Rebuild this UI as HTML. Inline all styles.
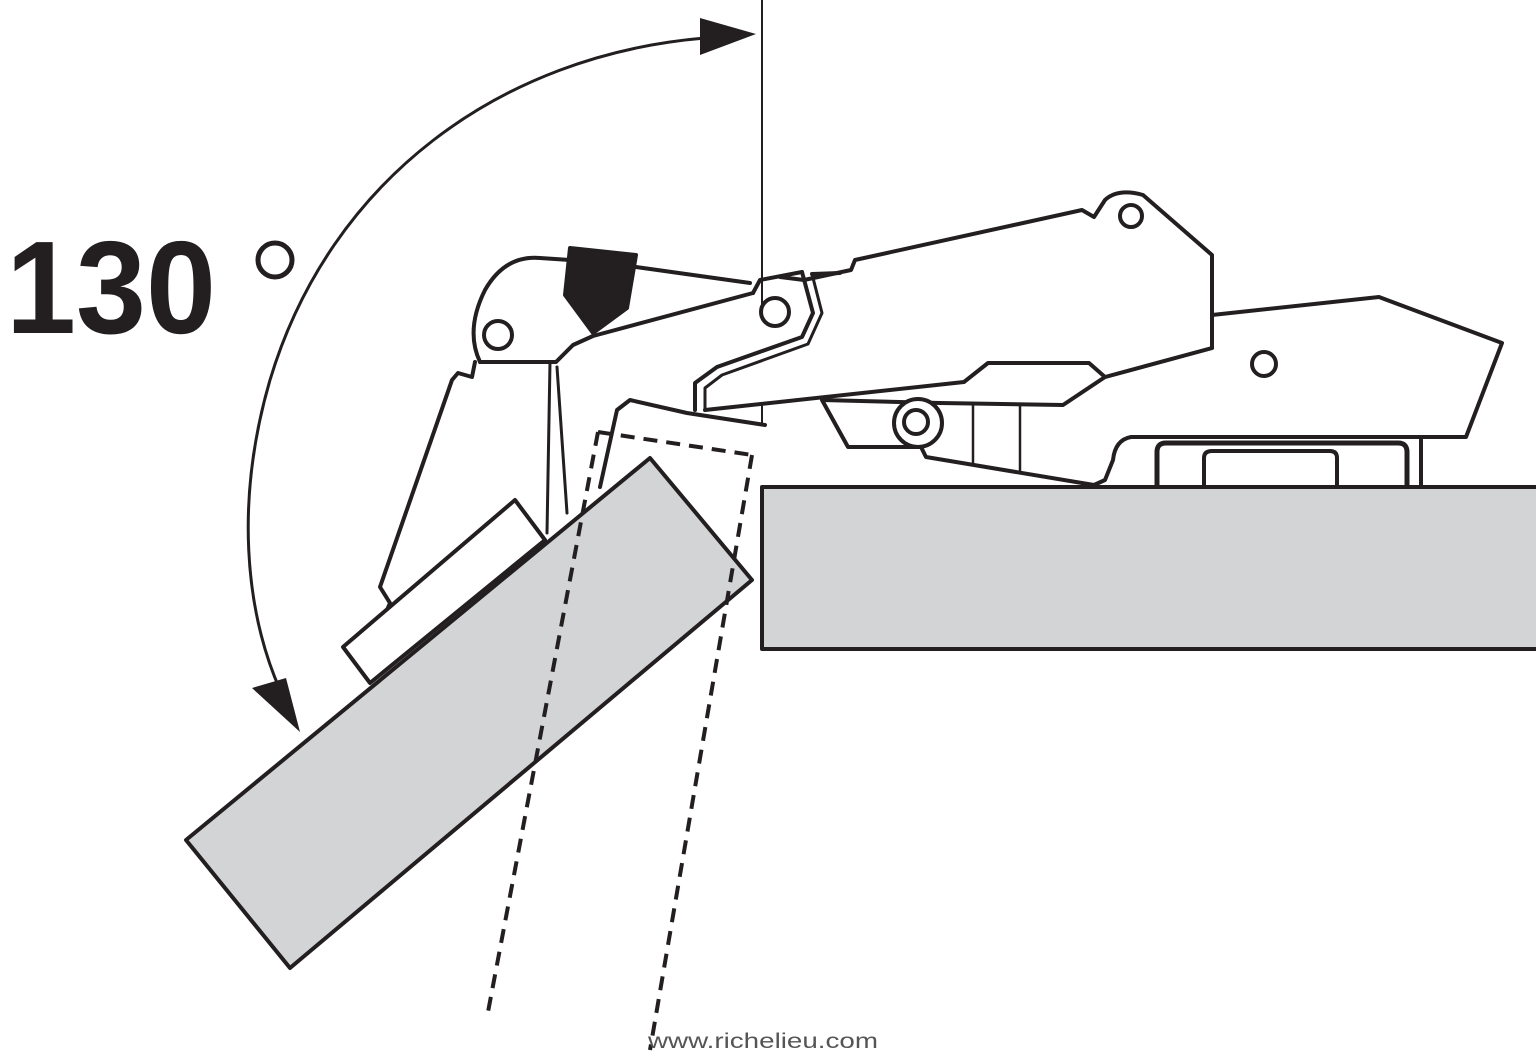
<!DOCTYPE html>
<html><head><meta charset="utf-8"><style>
html,body{margin:0;padding:0;background:#fff;}
svg{display:block;}
</style></head><body>
<svg width="1536" height="1055" viewBox="0 0 1536 1055" xmlns="http://www.w3.org/2000/svg">
<g fill="none" stroke="#231f20" stroke-width="4" stroke-linejoin="round" stroke-linecap="round">
<line x1="762" y1="0" x2="762" y2="425" stroke-width="2"/>
<path d="M705,38 C500,55 330,180 270,380 C235,500 245,610 280,690" stroke-width="3"/>
<rect x="762" y="487" width="780" height="162" fill="#d3d4d6"/>
<path d="M1212,315 L1379,297 L1502,343 L1466,437 L1131,437 Q1115,440 1113,460 L1105,480 L1094,485 L926,457 L921,447 L848,447 L822,400 L940,403 L1063,405 L1105,377 L1212,348 Z" fill="#fff"/>
<path d="M780,277 L804,280 L851,270 L855,260 L1082,210 L1094,217 L1105,200 Q1118,188 1143,195 L1212,255 L1212,348 L1105,377 L1089,363 L988,363 L964,382 L705,410" fill="#fff"/>
<circle cx="1131" cy="216" r="11"/>
<circle cx="1264" cy="364" r="12"/>
<circle cx="918" cy="423" r="24" fill="#fff"/>
<circle cx="916" cy="422" r="12"/>
<line x1="973" y1="405" x2="973" y2="465" stroke-width="2.5"/>
<line x1="1020" y1="405" x2="1020" y2="472" stroke-width="2.5"/>
<path d="M1157,485 L1157,452 Q1157,443 1166,443 L1398,443 Q1407,443 1407,452 L1407,485" stroke-width="5"/>
<path d="M1204,485 L1204,458 Q1204,451 1212,451 L1330,451 Q1337,451 1337,458 L1337,485"/>
<line x1="1421" y1="440" x2="1421" y2="485"/>
<path d="M802,272 L813,313 L802,337 L717,367 L695,383 L695,410" />
<path d="M812,274 L822,313 L808,344 L722,375 L705,388 L705,410" stroke-width="3"/>
<path d="M840,273 L812,274"/>
<path d="M750,283 L636,267 M753,293 L593,336 L573,345 L556,362 L480,362" />
<path d="M480,362 Q465,330 485,290 Q505,255 540,258 L570,260"/>
<path d="M753,293 L760,280 L802,272"/>
<polygon points="570,248 636,255 627,308 593,333 565,295" fill="#231f20"/>
<circle cx="498" cy="335" r="14" fill="#fff"/>
<circle cx="775" cy="312" r="14" fill="#fff"/>
<path d="M475,362 L472,377 L458,373 L452,380 L380,587 L390,603 L387,610"/>
<line x1="550" y1="362" x2="547" y2="533" stroke-width="3"/>
<line x1="557" y1="367" x2="567" y2="513" stroke-width="3"/>
<path d="M600,487 L617,410 L630,400 L687,413 L765,425"/>
<polygon points="343,647 515,500 545,540 370,683" fill="#fff"/>
<polygon points="186,840 650,458 752,580 290,968" fill="#d3d4d6"/>
<g stroke-dasharray="14,9" stroke-width="4" stroke-linecap="butt">
<path d="M598,432 L752,455"/>
<path d="M598,432 L488,1012"/>
<path d="M752,455 L650,1050"/>
</g>
</g>
<polygon points="700,18 756,34 700,55" fill="#231f20"/>
<polygon points="252,688 286,678 300,732" fill="#231f20"/>
<text x="6" y="333" font-family="Liberation Sans, sans-serif" font-weight="bold" font-size="132" fill="#231f20" textLength="210" lengthAdjust="spacingAndGlyphs">130</text>
<circle cx="275" cy="260" r="17" fill="none" stroke="#231f20" stroke-width="5"/>
<text x="648" y="1048" font-family="Liberation Sans, sans-serif" font-size="21" fill="#555" textLength="230" lengthAdjust="spacingAndGlyphs">www.richelieu.com</text>
</svg>
</body></html>
